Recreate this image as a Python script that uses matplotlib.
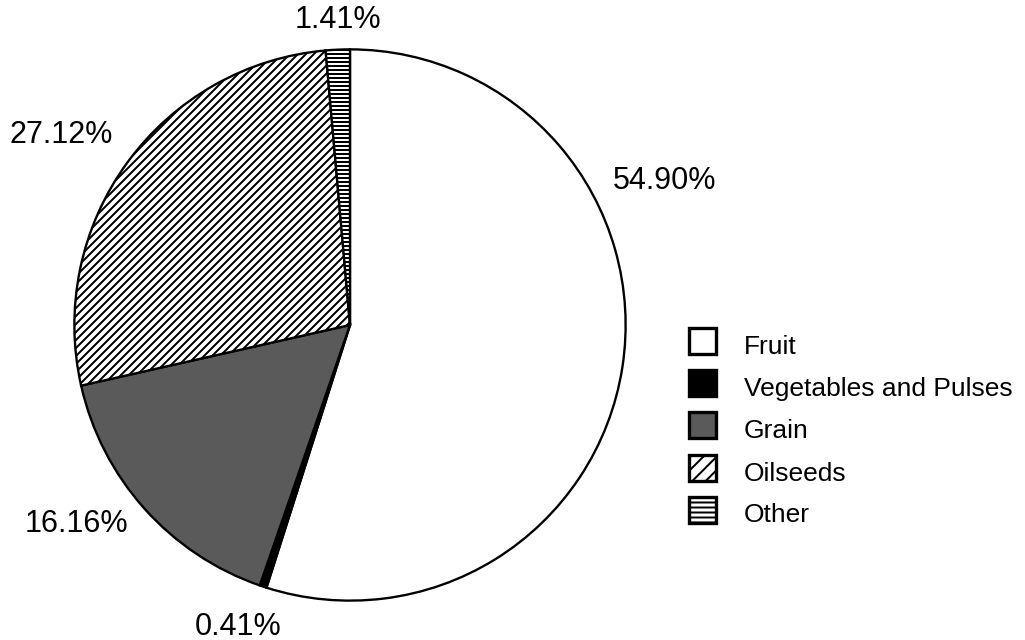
import matplotlib
matplotlib.use("Agg")
import matplotlib.pyplot as plt
from matplotlib.patches import Rectangle

categories = ["Fruit", "Vegetables and Pulses", "Grain", "Oilseeds", "Other"]
shares = [54.90, 0.41, 16.16, 27.12, 1.41]
label_texts = ["54.90%", "0.41%", "16.16%", "27.12%", "1.41%"]

W, H, DPI = 1025, 640, 120
plt.rcParams['font.family'] = ['Liberation Sans', 'DejaVu Sans']
plt.rcParams['hatch.linewidth'] = 1.2

faces = ["white", "black", "#5a5a5a", "white", "white"]
hatches = [None, None, None, "/////", "-----"]
leg_hatches = [None, None, None, "///", "----"]

fig = plt.figure(figsize=(W / DPI, H / DPI), dpi=DPI)
fig.patch.set_facecolor("white")

cx, cy, r = 350, 325, 277
ax = fig.add_axes([(cx - r) / W, 1 - (cy + r) / H, 2 * r / W, 2 * r / H])
wedges, _ = ax.pie(shares, startangle=90, counterclock=False, radius=1,
                   colors=faces,
                   wedgeprops=dict(edgecolor="black", linewidth=1.4))
for w, h in zip(wedges, hatches):
    if h:
        w.set_hatch(h)
ax.set_xlim(-1.005, 1.005)
ax.set_ylim(-1.005, 1.005)
ax.set_aspect("equal")
ax.axis("off")

def fx(x):
    return x / W

def fy(y):
    return 1 - y / H

# percentage labels (pixel positions of centre x and baseline y)
label_pos = [(664.5, 189), (238.5, 635), (76.5, 531.5), (61, 143), (337.5, 28.5)]
for txt, (x, y) in zip(label_texts, label_pos):
    fig.text(fx(x), fy(y), txt, ha="center", va="baseline", fontsize=18.3,
             color="black")

# legend
base_ys = [353.7, 395.8, 437.8, 480.6, 522.5]
sq_x, sq_w, sq_h = 688.5, 27, 26
for name, face, h, by in zip(categories, faces, leg_hatches, base_ys):
    rect = Rectangle((fx(sq_x), fy(by)), sq_w / W, sq_h / H,
                     transform=fig.transFigure, facecolor=face,
                     edgecolor="black", linewidth=2.0, hatch=h)
    fig.add_artist(rect)
    fig.text(fx(744), fy(by), name, ha="left", va="baseline", fontsize=15.8,
             color="black")

fig.savefig("out.png", dpi=DPI, facecolor="white")
